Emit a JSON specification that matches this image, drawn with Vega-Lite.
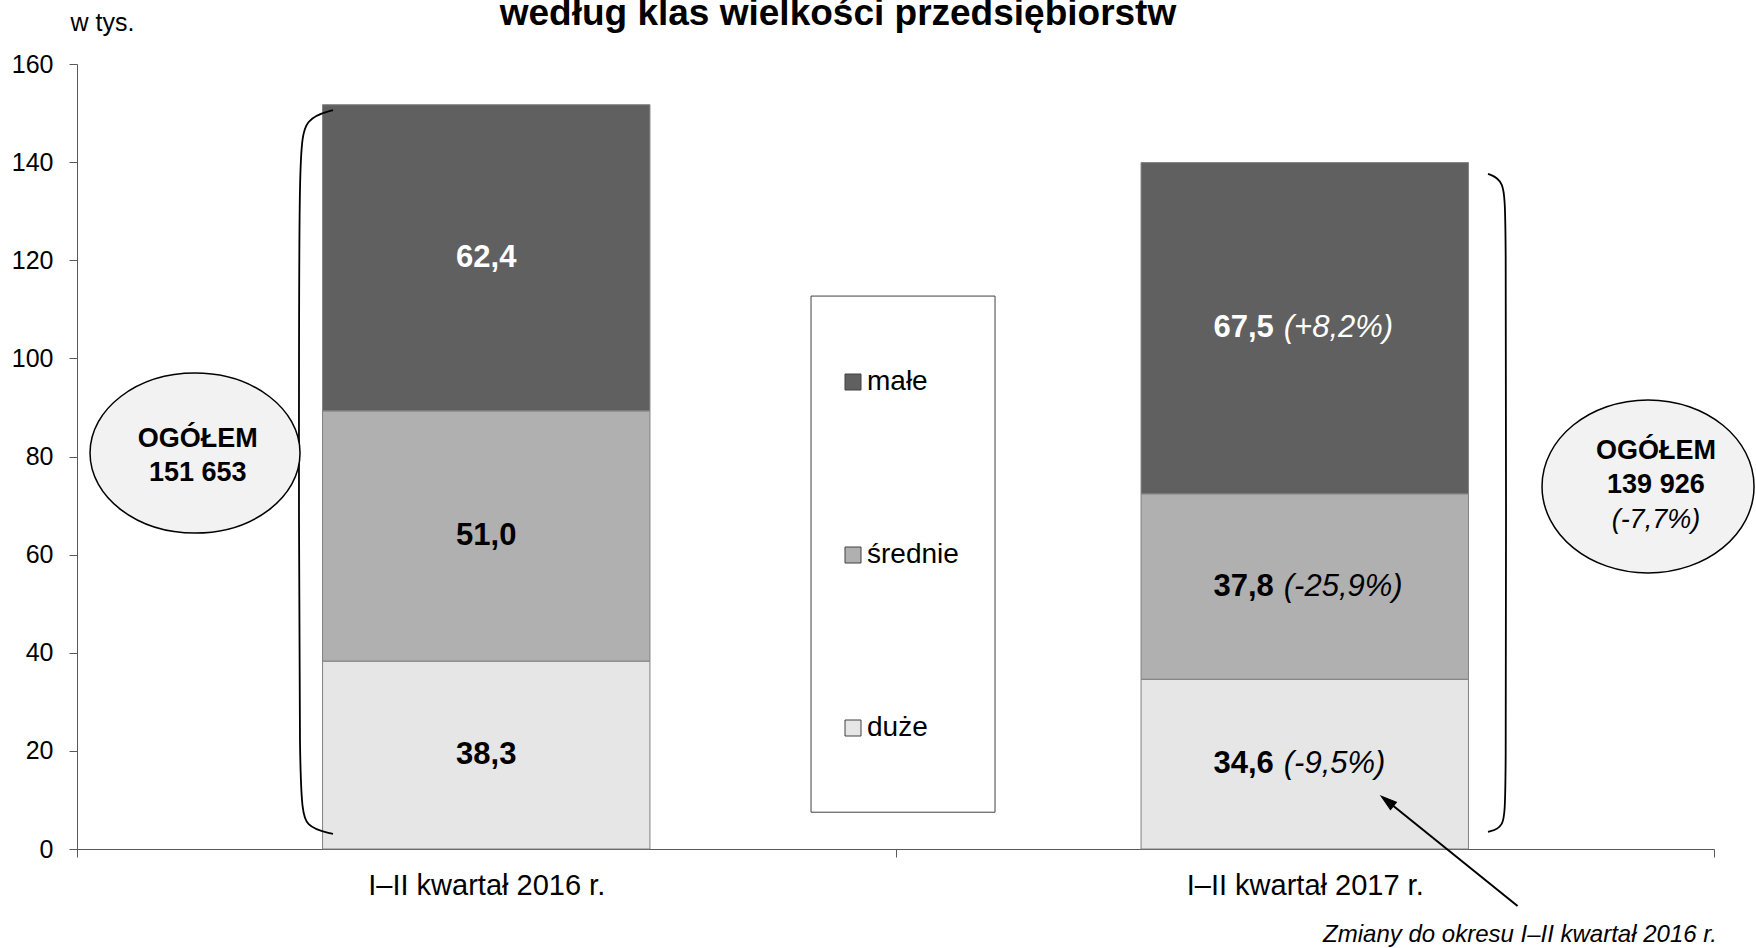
{
  "$schema": "https://vega.github.io/schema/vega-lite/v6.json",
  "width": 1637,
  "height": 785,
  "autosize": {"type": "none"},
  "padding": {"left": 77, "top": 64, "right": 42, "bottom": 99},
  "background": "white",
  "config": {"view": {"stroke": null}, "font": "Liberation Sans"},
  "datasets": {
    "pracujacy": [
      {"okres": "I–II kwartał 2016 r.", "rok": 2016, "klasa": "duże", "nr": 1, "wartosc": 38.3, "etykieta": "38,3", "zmiana": ""},
      {"okres": "I–II kwartał 2016 r.", "rok": 2016, "klasa": "średnie", "nr": 2, "wartosc": 51.0, "etykieta": "51,0", "zmiana": ""},
      {"okres": "I–II kwartał 2016 r.", "rok": 2016, "klasa": "małe", "nr": 3, "wartosc": 62.4, "etykieta": "62,4", "zmiana": ""},
      {"okres": "I–II kwartał 2017 r.", "rok": 2017, "klasa": "duże", "nr": 1, "wartosc": 34.6, "etykieta": "34,6", "zmiana": "(-9,5%)"},
      {"okres": "I–II kwartał 2017 r.", "rok": 2017, "klasa": "średnie", "nr": 2, "wartosc": 37.8, "etykieta": "37,8", "zmiana": "(-25,9%)"},
      {"okres": "I–II kwartał 2017 r.", "rok": 2017, "klasa": "małe", "nr": 3, "wartosc": 67.5, "etykieta": "67,5", "zmiana": "(+8,2%)"}
    ]
  },
  "resolve": {"scale": {"x": "independent"}, "axis": {"x": "independent", "y": "shared"}},
  "layer": [
    {
      "data": {"values": [{"u": 0.8968, "u2": 1.1216, "v": 112.7, "v2": 7.5}]},
      "mark": {"type": "rect", "fill": "white", "stroke": "#404040", "strokeWidth": 1},
      "encoding": {
        "x": {"field": "u", "type": "quantitative", "scale": {"domain": [0, 2]}, "axis": null},
        "x2": {"field": "u2"},
        "y": {"field": "v", "type": "quantitative", "scale": {"domain": [0, 160]}},
        "y2": {"field": "v2"}
      }
    },
    {
      "data": {"name": "pracujacy"},
      "mark": {"type": "bar", "width": {"band": 0.4}, "stroke": "#808080", "strokeWidth": 1},
      "encoding": {
        "x": {"field": "okres", "type": "nominal", "scale": {"domain": ["I–II kwartał 2016 r.", "I–II kwartał 2017 r."], "paddingInner": 0, "paddingOuter": 0},
          "axis": {"title": null, "labelAngle": 0, "labelFontSize": 29, "labelColor": "black", "labelFont": "Liberation Sans", "labelLimit": 600, "tickBand": "extent", "tickSize": 8, "tickColor": "#595959", "domainColor": "#595959", "labelPadding": 14, "orient": "bottom"}},
        "y": {"field": "wartosc", "type": "quantitative", "stack": "zero", "scale": {"domain": [0, 160]},
          "axis": {"values": [0, 20, 40, 60, 80, 100, 120, 140, 160], "title": "w tys.", "titleAngle": 0, "titleAlign": "left", "titleBaseline": "alphabetic", "titleX": -7, "titleY": -34, "titleFontSize": 25, "titleFontWeight": "normal", "titleColor": "black", "titleFont": "Liberation Sans", "labelFontSize": 25, "labelColor": "black", "labelFont": "Liberation Sans", "domainColor": "#595959", "tickColor": "#595959", "tickSize": 8, "labelPadding": 16, "grid": false, "orient": "left", "disable": false}},
        "color": {"field": "klasa", "type": "nominal",
          "scale": {"domain": ["małe", "średnie", "duże"], "range": ["#606060", "#b0b0b0", "#e6e6e6"]},
          "legend": {"orient": "none", "legendX": 762, "legendY": 304, "title": null, "direction": "vertical", "symbolType": "square", "symbolSize": 256, "symbolStrokeColor": "#404040", "symbolStrokeWidth": 1, "symbolOpacity": 1, "labelFontSize": 28, "labelColor": "black", "labelFont": "Liberation Sans", "rowPadding": 145, "labelOffset": 0, "padding": 0}},
        "order": {"field": "nr", "type": "quantitative"}
      }
    },
    {
      "data": {"name": "pracujacy"},
      "transform": [
        {"stack": "wartosc", "groupby": ["okres"], "sort": [{"field": "nr", "order": "ascending"}], "as": ["y0", "y1"]},
        {"calculate": "(datum.y0 + datum.y1) / 2", "as": "mid"},
        {"filter": "datum.rok == 2016"}
      ],
      "mark": {"type": "text", "fontSize": 31, "fontWeight": "bold", "baseline": "middle", "align": "center", "font": "Liberation Sans"},
      "encoding": {
        "x": {"field": "okres", "type": "nominal", "scale": {"domain": ["I–II kwartał 2016 r.", "I–II kwartał 2017 r."], "paddingInner": 0, "paddingOuter": 0}, "axis": null},
        "y": {"field": "mid", "type": "quantitative", "scale": {"domain": [0, 160]}},
        "text": {"field": "etykieta"},
        "color": {"condition": {"test": "datum.klasa === 'małe'", "value": "white"}, "value": "black"}
      }
    },
    {
      "data": {"name": "pracujacy"},
      "transform": [
        {"stack": "wartosc", "groupby": ["okres"], "sort": [{"field": "nr", "order": "ascending"}], "as": ["y0", "y1"]},
        {"calculate": "(datum.y0 + datum.y1) / 2", "as": "mid"},
        {"filter": "datum.rok == 2017"}
      ],
      "mark": {"type": "text", "fontSize": 31, "fontWeight": "bold", "baseline": "middle", "align": "right", "dx": -31, "font": "Liberation Sans"},
      "encoding": {
        "x": {"field": "okres", "type": "nominal", "scale": {"domain": ["I–II kwartał 2016 r.", "I–II kwartał 2017 r."], "paddingInner": 0, "paddingOuter": 0}, "axis": null},
        "y": {"field": "mid", "type": "quantitative", "scale": {"domain": [0, 160]}},
        "text": {"field": "etykieta"},
        "color": {"condition": {"test": "datum.klasa === 'małe'", "value": "white"}, "value": "black"}
      }
    },
    {
      "data": {"name": "pracujacy"},
      "transform": [
        {"stack": "wartosc", "groupby": ["okres"], "sort": [{"field": "nr", "order": "ascending"}], "as": ["y0", "y1"]},
        {"calculate": "(datum.y0 + datum.y1) / 2", "as": "mid"},
        {"filter": "datum.rok == 2017"}
      ],
      "mark": {"type": "text", "fontSize": 31, "fontStyle": "italic", "baseline": "middle", "align": "left", "dx": -21, "font": "Liberation Sans"},
      "encoding": {
        "x": {"field": "okres", "type": "nominal", "scale": {"domain": ["I–II kwartał 2016 r.", "I–II kwartał 2017 r."], "paddingInner": 0, "paddingOuter": 0}, "axis": null},
        "y": {"field": "mid", "type": "quantitative", "scale": {"domain": [0, 160]}},
        "text": {"field": "zmiana"},
        "color": {"condition": {"test": "datum.klasa === 'małe'", "value": "white"}, "value": "black"}
      }
    },
    {
      "data": {"values": [
        {"klamra": "L", "i": 1, "u": 0.3128, "v": 150.6},
        {"klamra": "L", "i": 2, "u": 0.2786, "v": 149.0},
        {"klamra": "L", "i": 3, "u": 0.2712, "v": 142.5},
        {"klamra": "L", "i": 4, "u": 0.2712, "v": 87.4},
        {"klamra": "L", "i": 5, "u": 0.2712, "v": 10.0},
        {"klamra": "L", "i": 6, "u": 0.2786, "v": 4.3},
        {"klamra": "L", "i": 7, "u": 0.3128, "v": 3.1},
        {"klamra": "R", "i": 1, "u": 1.7239, "v": 137.6},
        {"klamra": "R", "i": 2, "u": 1.7434, "v": 136.4},
        {"klamra": "R", "i": 3, "u": 1.7459, "v": 129.2},
        {"klamra": "R", "i": 4, "u": 1.7459, "v": 71.1},
        {"klamra": "R", "i": 5, "u": 1.7459, "v": 10.0},
        {"klamra": "R", "i": 6, "u": 1.7434, "v": 4.3},
        {"klamra": "R", "i": 7, "u": 1.7239, "v": 3.5}
      ]},
      "mark": {"type": "line", "interpolate": "basis", "color": "black", "strokeWidth": 1.8},
      "encoding": {
        "x": {"field": "u", "type": "quantitative", "scale": {"domain": [0, 2]}, "axis": null},
        "y": {"field": "v", "type": "quantitative", "scale": {"domain": [0, 160]}},
        "detail": {"field": "klamra"},
        "order": {"field": "i", "type": "quantitative"}
      }
    },
    {
      "data": {"values": [{"u": 0.1442, "v": 80.7}]},
      "mark": {"type": "point", "shape": "M-1,0A1,0.762,0,1,0,1,0A1,0.762,0,1,0,-1,0Z", "size": 44100, "filled": true, "fill": "#f2f2f2", "stroke": "black", "strokeWidth": 1.5, "opacity": 1, "fillOpacity": 1, "strokeOpacity": 1},
      "encoding": {
        "x": {"field": "u", "type": "quantitative", "scale": {"domain": [0, 2]}, "axis": null},
        "y": {"field": "v", "type": "quantitative", "scale": {"domain": [0, 160]}}
      }
    },
    {
      "data": {"values": [{"u": 1.9194, "v": 73.9}]},
      "mark": {"type": "point", "shape": "M-1,0A1,0.816,0,1,0,1,0A1,0.816,0,1,0,-1,0Z", "size": 44944, "filled": true, "fill": "#f2f2f2", "stroke": "black", "strokeWidth": 1.5, "opacity": 1, "fillOpacity": 1, "strokeOpacity": 1},
      "encoding": {
        "x": {"field": "u", "type": "quantitative", "scale": {"domain": [0, 2]}, "axis": null},
        "y": {"field": "v", "type": "quantitative", "scale": {"domain": [0, 160]}}
      }
    },
    {
      "data": {"values": [
        {"u": 0.1475, "v": 83.6, "tekst": "OGÓŁEM"},
        {"u": 0.1475, "v": 76.7, "tekst": "151 653"},
        {"u": 1.929, "v": 81.1, "tekst": "OGÓŁEM"},
        {"u": 1.929, "v": 74.2, "tekst": "139 926"}
      ]},
      "mark": {"type": "text", "fontSize": 27, "fontWeight": "bold", "baseline": "middle", "align": "center", "color": "black", "font": "Liberation Sans"},
      "encoding": {
        "x": {"field": "u", "type": "quantitative", "scale": {"domain": [0, 2]}, "axis": null},
        "y": {"field": "v", "type": "quantitative", "scale": {"domain": [0, 160]}},
        "text": {"field": "tekst"}
      }
    },
    {
      "data": {"values": [{"u": 1.929, "v": 67.1, "tekst": "(-7,7%)"}]},
      "mark": {"type": "text", "fontSize": 27, "fontStyle": "italic", "baseline": "middle", "align": "center", "color": "black", "font": "Liberation Sans"},
      "encoding": {
        "x": {"field": "u", "type": "quantitative", "scale": {"domain": [0, 2]}, "axis": null},
        "y": {"field": "v", "type": "quantitative", "scale": {"domain": [0, 160]}},
        "text": {"field": "tekst"}
      }
    },
    {
      "data": {"values": [{"u": 1.76, "v": -11.6, "u2": 1.6008, "v2": 9.78}]},
      "mark": {"type": "rule", "color": "black", "strokeWidth": 2},
      "encoding": {
        "x": {"field": "u", "type": "quantitative", "scale": {"domain": [0, 2]}, "axis": null},
        "y": {"field": "v", "type": "quantitative", "scale": {"domain": [0, 160]}},
        "x2": {"field": "u2"},
        "y2": {"field": "v2"}
      }
    },
    {
      "data": {"values": [{"u": 1.6008, "v": 9.78}]},
      "mark": {"type": "point", "shape": "M0,-1L-0.6,1L0.6,1Z", "size": 256, "angle": 308.9, "filled": true, "fill": "black", "stroke": "black", "strokeWidth": 1, "opacity": 1},
      "encoding": {
        "x": {"field": "u", "type": "quantitative", "scale": {"domain": [0, 2]}, "axis": null},
        "y": {"field": "v", "type": "quantitative", "scale": {"domain": [0, 160]}}
      }
    },
    {
      "data": {"values": [{"u": 2.0037, "v": -17.5, "tekst": "Zmiany do okresu I–II kwartał 2016 r."}]},
      "mark": {"type": "text", "fontSize": 24, "fontStyle": "italic", "baseline": "middle", "align": "right", "color": "black", "font": "Liberation Sans"},
      "encoding": {
        "x": {"field": "u", "type": "quantitative", "scale": {"domain": [0, 2]}, "axis": null},
        "y": {"field": "v", "type": "quantitative", "scale": {"domain": [0, 160]}},
        "text": {"field": "tekst"}
      }
    },
    {
      "data": {"values": [{"u": 0.9297, "v": 168.0, "tekst": "według klas wielkości przedsiębiorstw"}]},
      "mark": {"type": "text", "fontSize": 37, "fontWeight": "bold", "baseline": "alphabetic", "align": "center", "color": "black", "font": "Liberation Sans"},
      "encoding": {
        "x": {"field": "u", "type": "quantitative", "scale": {"domain": [0, 2]}, "axis": null},
        "y": {"field": "v", "type": "quantitative", "scale": {"domain": [0, 160]}},
        "text": {"field": "tekst"}
      }
    }
  ]
}
